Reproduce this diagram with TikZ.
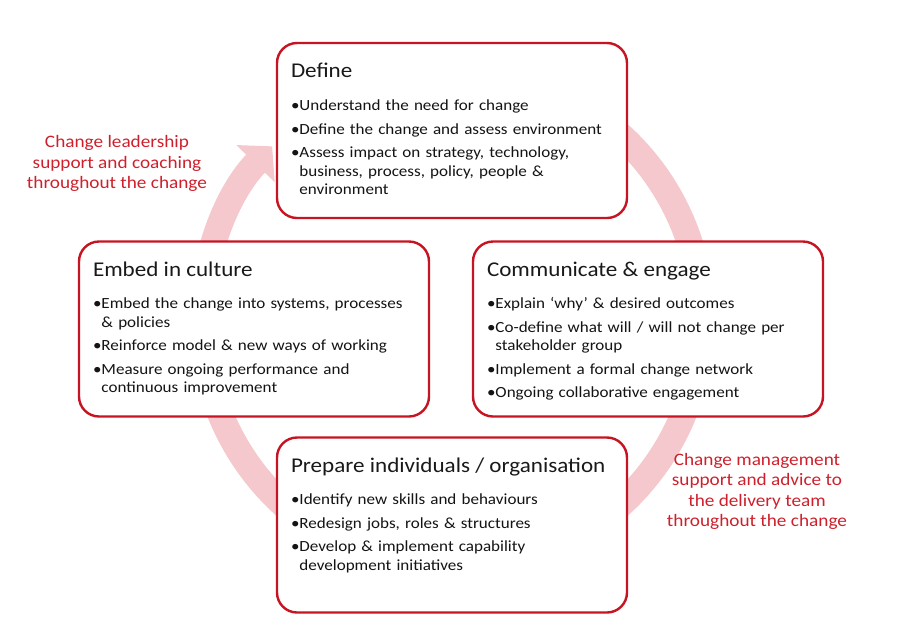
\documentclass[tikz,border=0pt]{standalone}
\usepackage{fontspec}
\setmainfont{Carlito}[FakeStretch=1.1]
\usepackage{tikz}
\usetikzlibrary{arrows.meta,positioning}

\definecolor{boxred}{RGB}{198,20,34}
\definecolor{ringpink}{RGB}{244,200,204}
\definecolor{notered}{RGB}{206,32,44}

\newlength{\bltw}
\newcommand{\stageitem}[1]{\setlength{\parskip}{5pt}\settowidth{\bltw}{\textbullet}%
  \hangindent=\bltw\hangafter=1\noindent\textbullet#1\par}

\begin{document}
\begin{tikzpicture}[
x=1pt, y=1pt,
stagebox/.style={draw=boxred, line width=2.4pt, fill=white, rounded corners=20pt, minimum width=350pt, minimum height=175pt, inner sep=0pt},
stagetitle/.style={inner sep=0pt, font=\fontsize{21}{25}\selectfont, text=black!90},
stagelist/.style={inner sep=0pt, text width=332pt, align=left, font=\fontsize{15.5}{18.5}\selectfont, text=black!92},
note/.style={align=center, text=notered, font=\fontsize{17.5}{20.5}\selectfont},
cyclearrow/.style={line width=26pt, draw=ringpink, -{Triangle[width=52pt,length=24pt]}}
]
\useasboundingbox (0,0) rectangle (903,-641);

% ring behind the four stages
\coordinate (ringc) at (452,-320);
\draw[cyclearrow] ([shift={(60:250)}]ringc) arc[start angle=60, end angle=-224, radius=250];

\node[stagebox] (define) at (452,-130.5) {};
\node[stagebox] (embed) at (254,-329) {};
\node[stagebox] (comm) at (648,-329) {};
\node[stagebox] (prep) at (452,-525) {};

% titles
\node[stagetitle, below right=36pt and 15pt of define.north west, anchor=base west] (definet) {Define};
\node[stagetitle, below right=36pt and 15pt of embed.north west, anchor=base west] (embedt) {Embed in culture};
\node[stagetitle, below right=36pt and 15pt of comm.north west, anchor=base west] (commt) {Communicate \& engage};
\node[stagetitle, below right=36pt and 15pt of prep.north west, anchor=base west] (prept) {Prepare individuals / organisation};

% bullet lists
\node[stagelist, below right=69pt and 15pt of define.north west, anchor=base west] (definel) {%
\stageitem{Understand the need for change}
\stageitem{Define the change and assess environment}
\stageitem{Assess impact on strategy, technology,\newline business, process, policy, people \&\newline environment}};
\node[stagelist, below right=68.5pt and 15pt of embed.north west, anchor=base west] (embedl) {%
\stageitem{Embed the change into systems, processes\newline \& policies}
\stageitem{Reinforce model \& new ways of working}
\stageitem{Measure ongoing performance and\newline continuous improvement}};
\node[stagelist, below right=68.5pt and 15pt of comm.north west, anchor=base west] (comml) {%
\stageitem{Explain ‘why’ \& desired outcomes}
\stageitem{Co-define what will / will not change per\newline stakeholder group}
\stageitem{Implement a formal change network}
\stageitem{Ongoing collaborative engagement}};
\node[stagelist, below right=68.5pt and 15pt of prep.north west, anchor=base west] (prepl) {%
\stageitem{Identify new skills and behaviours}
\stageitem{Redesign jobs, roles \& structures}
\stageitem{Develop \& implement capability\newline development initiatives}};

% side notes
\node[note] (lead) at (117,-163.5) {Change leadership\\support and coaching\\throughout the change};
\node[note] (mgmt) at (757,-491.5) {Change management\\support and advice to\\the delivery team\\throughout the change};
\end{tikzpicture}
\end{document}
